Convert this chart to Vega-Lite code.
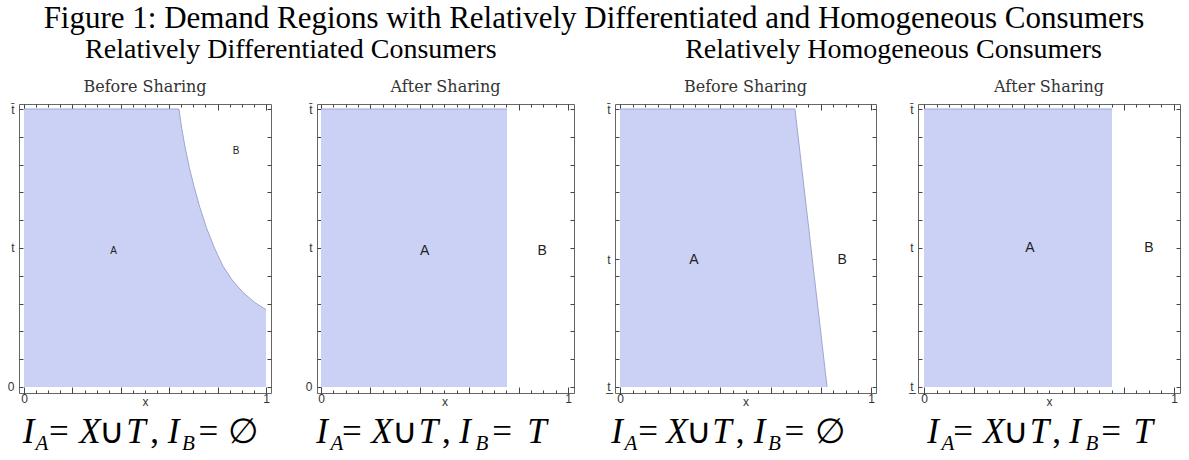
{
  "$schema": "https://vega.github.io/schema/vega-lite/v6.json",
  "padding": {"left": 6, "top": 2, "right": 0, "bottom": 0},
  "background": "white",
  "title": {"text": "Figure 1: Demand Regions with Relatively Differentiated and Homogeneous Consumers", "font": "Liberation Serif", "fontSize": 31, "fontWeight": "normal", "color": "#000", "anchor": "middle", "offset": 1},
  "config": {
    "view": {"stroke": "#666", "strokeWidth": 1, "fill": "white"},
    "axis": {"grid": false, "domain": false, "tickColor": "#444", "labelFont": "Liberation Sans", "labelFontSize": 12, "labelColor": "#333", "labelFlush": false, "title": null},
    "text": {"font": "Liberation Sans"}
  },
  "datasets": {
    "p1_region": [{"x": 0, "t": 1}, {"x": 0.64, "t": 1}, {"x": 0.652, "t": 0.93}, {"x": 0.666, "t": 0.86}, {"x": 0.683, "t": 0.79}, {"x": 0.703, "t": 0.72}, {"x": 0.727, "t": 0.645}, {"x": 0.755, "t": 0.57}, {"x": 0.787, "t": 0.5}, {"x": 0.822, "t": 0.435}, {"x": 0.86, "t": 0.385}, {"x": 0.905, "t": 0.34}, {"x": 0.952, "t": 0.305}, {"x": 1, "t": 0.278}],
    "p2_region": [{"x": 0, "t": 1}, {"x": 0.753, "t": 1}],
    "p3_region": [{"x": 0, "t": 1}, {"x": 0.697, "t": 1}, {"x": 0.825, "t": 0}],
    "p4_region": [{"x": 0, "t": 1}, {"x": 0.752, "t": 1}],
    "p1_labels": [{"label": "A", "x": 0.37, "t": 0.49}, {"label": "B", "x": 0.876, "t": 0.85}],
    "p2_labels": [{"label": "A", "x": 0.42, "t": 0.49}, {"label": "B", "x": 0.895, "t": 0.49}],
    "p3_labels": [{"label": "A", "x": 0.295, "t": 0.457}, {"label": "B", "x": 0.885, "t": 0.457}],
    "p4_labels": [{"label": "A", "x": 0.424, "t": 0.5}, {"label": "B", "x": 0.9, "t": 0.5}],
    "p1_sym": [{"token": "I", "x": 0.0186, "t": -0.2}, {"token": "X", "x": 0.2727, "t": -0.2}, {"token": "T", "x": 0.4628, "t": -0.2}, {"token": "I", "x": 0.6178, "t": -0.2}],
    "p1_op": [{"token": "=", "x": 0.1446, "t": -0.2}, {"token": "∪", "x": 0.3633, "t": -0.2}, {"token": ",", "x": 0.5393, "t": -0.2}, {"token": "=", "x": 0.7624, "t": -0.2}, {"token": "∅", "x": 0.907, "t": -0.2}],
    "p1_sub": [{"token": "A", "x": 0.0744, "t": -0.226}, {"token": "B", "x": 0.6798, "t": -0.226}],
    "p2_sym": [{"token": "I", "x": 0.004, "t": -0.2}, {"token": "X", "x": 0.247, "t": -0.2}, {"token": "T", "x": 0.4352, "t": -0.2}, {"token": "I", "x": 0.583, "t": -0.2}, {"token": "T", "x": 0.874, "t": -0.2}],
    "p2_op": [{"token": "=", "x": 0.1255, "t": -0.2}, {"token": "∪", "x": 0.34, "t": -0.2}, {"token": ",", "x": 0.508, "t": -0.2}, {"token": "=", "x": 0.7328, "t": -0.2}],
    "p2_sub": [{"token": "A", "x": 0.0648, "t": -0.226}, {"token": "B", "x": 0.6518, "t": -0.226}],
    "p3_sym": [{"token": "I", "x": -0.012, "t": -0.2}, {"token": "X", "x": 0.2271, "t": -0.2}, {"token": "T", "x": 0.4064, "t": -0.2}, {"token": "I", "x": 0.5558, "t": -0.2}],
    "p3_op": [{"token": "=", "x": 0.1116, "t": -0.2}, {"token": "∪", "x": 0.3148, "t": -0.2}, {"token": ",", "x": 0.4781, "t": -0.2}, {"token": "=", "x": 0.6952, "t": -0.2}, {"token": "∅", "x": 0.8347, "t": -0.2}],
    "p3_sub": [{"token": "A", "x": 0.0438, "t": -0.226}, {"token": "B", "x": 0.6155, "t": -0.226}],
    "p4_sym": [{"token": "I", "x": 0.036, "t": -0.2}, {"token": "X", "x": 0.28, "t": -0.2}, {"token": "T", "x": 0.462, "t": -0.2}, {"token": "I", "x": 0.604, "t": -0.2}, {"token": "T", "x": 0.877, "t": -0.2}],
    "p4_op": [{"token": "=", "x": 0.156, "t": -0.2}, {"token": "∪", "x": 0.368, "t": -0.2}, {"token": ",", "x": 0.53, "t": -0.2}, {"token": "=", "x": 0.748, "t": -0.2}],
    "p4_sub": [{"token": "A", "x": 0.096, "t": -0.226}, {"token": "B", "x": 0.672, "t": -0.226}]
  },
  "spacing": 31,
  "hconcat": [
    {
      "title": {"text": "Relatively Differentiated Consumers", "font": "Liberation Serif", "fontSize": 28, "fontWeight": "normal", "color": "#000", "anchor": "middle", "offset": 15},
      "spacing": 32,
      "hconcat": [
        {
          "width": 252, "height": 289,
          "title": {"text": "Before Sharing", "font": "DejaVu Serif", "fontSize": 16, "fontWeight": "normal", "color": "#333", "offset": 8},
          "resolve": {"axis": {"x": "independent", "y": "independent"}},
          "layer": [
            {"data": {"name": "p1_region"}, "mark": {"type": "area", "color": "#cbd1f4", "opacity": 1, "line": {"color": "#a0a6cf", "strokeWidth": 1}},
             "encoding": {
               "x": {"field": "x", "type": "quantitative", "scale": {"domain": [-0.0207, 1.0207], "nice": false, "zero": false},
                     "axis": {"orient": "bottom", "values": [0,0.05,0.1,0.15,0.2,0.25,0.3,0.35,0.4,0.45,0.5,0.55,0.6,0.65,0.7,0.75,0.8,0.85,0.9,0.95,1], "labelExpr": "datum.value==0?'0':datum.value==0.5?'x':datum.value==1?'1':''", "tickSize": {"condition": {"test": "abs(datum.value*5-round(datum.value*5))<0.001", "value": -6}, "value": -3}, "labelPadding": 6}},
               "y": {"field": "t", "type": "quantitative", "scale": {"domain": [-0.0216, 1.018], "nice": false, "zero": false},
                     "axis": {"orient": "left", "values": [0,0.1,0.2,0.3,0.4,0.5,0.6,0.7,0.8,0.9,1], "labelExpr": "datum.value==1?'t\u0304':datum.value==0?'0':datum.value==0.5?'t':''", "tickSize": -4, "labelPadding": 9}},
               "y2": {"datum": 0}}},
            {"data": {"name": "p1_labels"}, "mark": {"type": "text", "fontSize": 10, "color": "#222"},
             "encoding": {
               "x": {"field": "x", "type": "quantitative", "scale": {"domain": [-0.0207, 1.0207], "nice": false, "zero": false},
                     "axis": {"orient": "top", "values": [0,0.05,0.1,0.15,0.2,0.25,0.3,0.35,0.4,0.45,0.5,0.55,0.6,0.65,0.7,0.75,0.8,0.85,0.9,0.95,1], "labels": false, "tickSize": {"condition": {"test": "abs(datum.value*5-round(datum.value*5))<0.001", "value": -6}, "value": -3}}},
               "y": {"field": "t", "type": "quantitative", "scale": {"domain": [-0.0216, 1.018], "nice": false, "zero": false},
                     "axis": {"orient": "right", "values": [0,0.1,0.2,0.3,0.4,0.5,0.6,0.7,0.8,0.9,1], "labels": false, "tickSize": -4}},
               "text": {"field": "label"}}},
            {"data": {"name": "p1_sym"}, "mark": {"type": "text", "font": "Liberation Serif", "fontStyle": "italic", "fontSize": 35, "align": "center", "baseline": "alphabetic", "color": "#000"},
             "encoding": {"x": {"field": "x", "type": "quantitative", "scale": {"domain": [-0.0207, 1.0207], "nice": false, "zero": false}, "axis": null}, "y": {"field": "t", "type": "quantitative", "scale": {"domain": [-0.0216, 1.018], "nice": false, "zero": false}, "axis": null}, "text": {"field": "token"}}},
            {"data": {"name": "p1_op"}, "mark": {"type": "text", "font": "Liberation Serif", "fontSize": 35, "align": "center", "baseline": "alphabetic", "color": "#000"},
             "encoding": {"x": {"field": "x", "type": "quantitative", "scale": {"domain": [-0.0207, 1.0207], "nice": false, "zero": false}, "axis": null}, "y": {"field": "t", "type": "quantitative", "scale": {"domain": [-0.0216, 1.018], "nice": false, "zero": false}, "axis": null}, "text": {"field": "token"}}},
            {"data": {"name": "p1_sub"}, "mark": {"type": "text", "font": "Liberation Serif", "fontStyle": "italic", "fontSize": 21, "align": "center", "baseline": "alphabetic", "color": "#000"},
             "encoding": {"x": {"field": "x", "type": "quantitative", "scale": {"domain": [-0.0207, 1.0207], "nice": false, "zero": false}, "axis": null}, "y": {"field": "t", "type": "quantitative", "scale": {"domain": [-0.0216, 1.018], "nice": false, "zero": false}, "axis": null}, "text": {"field": "token"}}}
          ]
        },
        {
          "width": 257, "height": 289,
          "title": {"text": "After Sharing", "font": "DejaVu Serif", "fontSize": 16, "fontWeight": "normal", "color": "#333", "offset": 8},
          "resolve": {"axis": {"x": "independent", "y": "independent"}},
          "layer": [
            {"data": {"name": "p2_region"}, "mark": {"type": "area", "color": "#cbd1f4", "opacity": 1, "line": {"color": "#a0a6cf", "strokeWidth": 1}},
             "encoding": {
               "x": {"field": "x", "type": "quantitative", "scale": {"domain": [-0.0162, 1.0243], "nice": false, "zero": false},
                     "axis": {"orient": "bottom", "values": [0,0.05,0.1,0.15,0.2,0.25,0.3,0.35,0.4,0.45,0.5,0.55,0.6,0.65,0.7,0.75,0.8,0.85,0.9,0.95,1], "labelExpr": "datum.value==0?'0':datum.value==0.5?'x':datum.value==1?'1':''", "tickSize": {"condition": {"test": "abs(datum.value*5-round(datum.value*5))<0.001", "value": -6}, "value": -3}, "labelPadding": 6}},
               "y": {"field": "t", "type": "quantitative", "scale": {"domain": [-0.0216, 1.018], "nice": false, "zero": false},
                     "axis": {"orient": "left", "values": [0,0.1,0.2,0.3,0.4,0.5,0.6,0.7,0.8,0.9,1], "labelExpr": "datum.value==1?'t\u0304':datum.value==0?'0':datum.value==0.5?'t':''", "tickSize": -4, "labelPadding": 9}},
               "y2": {"datum": 0}}},
            {"data": {"name": "p2_labels"}, "mark": {"type": "text", "fontSize": 14, "color": "#222"},
             "encoding": {
               "x": {"field": "x", "type": "quantitative", "scale": {"domain": [-0.0162, 1.0243], "nice": false, "zero": false},
                     "axis": {"orient": "top", "values": [0,0.05,0.1,0.15,0.2,0.25,0.3,0.35,0.4,0.45,0.5,0.55,0.6,0.65,0.7,0.75,0.8,0.85,0.9,0.95,1], "labels": false, "tickSize": {"condition": {"test": "abs(datum.value*5-round(datum.value*5))<0.001", "value": -6}, "value": -3}}},
               "y": {"field": "t", "type": "quantitative", "scale": {"domain": [-0.0216, 1.018], "nice": false, "zero": false},
                     "axis": {"orient": "right", "values": [0,0.1,0.2,0.3,0.4,0.5,0.6,0.7,0.8,0.9,1], "labels": false, "tickSize": -4}},
               "text": {"field": "label"}}},
            {"data": {"name": "p2_sym"}, "mark": {"type": "text", "font": "Liberation Serif", "fontStyle": "italic", "fontSize": 35, "align": "center", "baseline": "alphabetic", "color": "#000"},
             "encoding": {"x": {"field": "x", "type": "quantitative", "scale": {"domain": [-0.0162, 1.0243], "nice": false, "zero": false}, "axis": null}, "y": {"field": "t", "type": "quantitative", "scale": {"domain": [-0.0216, 1.018], "nice": false, "zero": false}, "axis": null}, "text": {"field": "token"}}},
            {"data": {"name": "p2_op"}, "mark": {"type": "text", "font": "Liberation Serif", "fontSize": 35, "align": "center", "baseline": "alphabetic", "color": "#000"},
             "encoding": {"x": {"field": "x", "type": "quantitative", "scale": {"domain": [-0.0162, 1.0243], "nice": false, "zero": false}, "axis": null}, "y": {"field": "t", "type": "quantitative", "scale": {"domain": [-0.0216, 1.018], "nice": false, "zero": false}, "axis": null}, "text": {"field": "token"}}},
            {"data": {"name": "p2_sub"}, "mark": {"type": "text", "font": "Liberation Serif", "fontStyle": "italic", "fontSize": 21, "align": "center", "baseline": "alphabetic", "color": "#000"},
             "encoding": {"x": {"field": "x", "type": "quantitative", "scale": {"domain": [-0.0162, 1.0243], "nice": false, "zero": false}, "axis": null}, "y": {"field": "t", "type": "quantitative", "scale": {"domain": [-0.0216, 1.018], "nice": false, "zero": false}, "axis": null}, "text": {"field": "token"}}}
          ]
        }
      ]
    },
    {
      "title": {"text": "Relatively Homogeneous Consumers", "font": "Liberation Serif", "fontSize": 28, "fontWeight": "normal", "color": "#000", "anchor": "middle", "offset": 15},
      "spacing": 32,
      "hconcat": [
        {
          "width": 261, "height": 289,
          "title": {"text": "Before Sharing", "font": "DejaVu Serif", "fontSize": 16, "fontWeight": "normal", "color": "#333", "offset": 8},
          "resolve": {"axis": {"x": "independent", "y": "independent"}},
          "layer": [
            {"data": {"name": "p3_region"}, "mark": {"type": "area", "color": "#cbd1f4", "opacity": 1, "line": {"color": "#a0a6cf", "strokeWidth": 1}},
             "encoding": {
               "x": {"field": "x", "type": "quantitative", "scale": {"domain": [-0.0199, 1.0199], "nice": false, "zero": false},
                     "axis": {"orient": "bottom", "values": [0,0.05,0.1,0.15,0.2,0.25,0.3,0.35,0.4,0.45,0.5,0.55,0.6,0.65,0.7,0.75,0.8,0.85,0.9,0.95,1], "labelExpr": "datum.value==0?'0':datum.value==0.5?'x':datum.value==1?'1':''", "tickSize": {"condition": {"test": "abs(datum.value*5-round(datum.value*5))<0.001", "value": -6}, "value": -3}, "labelPadding": 6}},
               "y": {"field": "t", "type": "quantitative", "scale": {"domain": [-0.0216, 1.018], "nice": false, "zero": false},
                     "axis": {"orient": "left", "values": [0,0.1,0.2,0.3,0.4,0.46,0.6,0.7,0.8,0.9,1], "labelExpr": "datum.value==1?'t\u0304':datum.value==0?'t\u0332':datum.value==0.46?'t':''", "tickSize": -4, "labelPadding": 9}},
               "y2": {"datum": 0}}},
            {"data": {"name": "p3_labels"}, "mark": {"type": "text", "fontSize": 14, "color": "#222"},
             "encoding": {
               "x": {"field": "x", "type": "quantitative", "scale": {"domain": [-0.0199, 1.0199], "nice": false, "zero": false},
                     "axis": {"orient": "top", "values": [0,0.05,0.1,0.15,0.2,0.25,0.3,0.35,0.4,0.45,0.5,0.55,0.6,0.65,0.7,0.75,0.8,0.85,0.9,0.95,1], "labels": false, "tickSize": {"condition": {"test": "abs(datum.value*5-round(datum.value*5))<0.001", "value": -6}, "value": -3}}},
               "y": {"field": "t", "type": "quantitative", "scale": {"domain": [-0.0216, 1.018], "nice": false, "zero": false},
                     "axis": {"orient": "right", "values": [0,0.1,0.2,0.3,0.4,0.46,0.6,0.7,0.8,0.9,1], "labels": false, "tickSize": -4}},
               "text": {"field": "label"}}},
            {"data": {"name": "p3_sym"}, "mark": {"type": "text", "font": "Liberation Serif", "fontStyle": "italic", "fontSize": 35, "align": "center", "baseline": "alphabetic", "color": "#000"},
             "encoding": {"x": {"field": "x", "type": "quantitative", "scale": {"domain": [-0.0199, 1.0199], "nice": false, "zero": false}, "axis": null}, "y": {"field": "t", "type": "quantitative", "scale": {"domain": [-0.0216, 1.018], "nice": false, "zero": false}, "axis": null}, "text": {"field": "token"}}},
            {"data": {"name": "p3_op"}, "mark": {"type": "text", "font": "Liberation Serif", "fontSize": 35, "align": "center", "baseline": "alphabetic", "color": "#000"},
             "encoding": {"x": {"field": "x", "type": "quantitative", "scale": {"domain": [-0.0199, 1.0199], "nice": false, "zero": false}, "axis": null}, "y": {"field": "t", "type": "quantitative", "scale": {"domain": [-0.0216, 1.018], "nice": false, "zero": false}, "axis": null}, "text": {"field": "token"}}},
            {"data": {"name": "p3_sub"}, "mark": {"type": "text", "font": "Liberation Serif", "fontStyle": "italic", "fontSize": 21, "align": "center", "baseline": "alphabetic", "color": "#000"},
             "encoding": {"x": {"field": "x", "type": "quantitative", "scale": {"domain": [-0.0199, 1.0199], "nice": false, "zero": false}, "axis": null}, "y": {"field": "t", "type": "quantitative", "scale": {"domain": [-0.0216, 1.018], "nice": false, "zero": false}, "axis": null}, "text": {"field": "token"}}}
          ]
        },
        {
          "width": 262, "height": 289,
          "title": {"text": "After Sharing", "font": "DejaVu Serif", "fontSize": 16, "fontWeight": "normal", "color": "#333", "offset": 8},
          "resolve": {"axis": {"x": "independent", "y": "independent"}},
          "layer": [
            {"data": {"name": "p4_region"}, "mark": {"type": "area", "color": "#cbd1f4", "opacity": 1, "line": {"color": "#a0a6cf", "strokeWidth": 1}},
             "encoding": {
               "x": {"field": "x", "type": "quantitative", "scale": {"domain": [-0.024, 1.024], "nice": false, "zero": false},
                     "axis": {"orient": "bottom", "values": [0,0.05,0.1,0.15,0.2,0.25,0.3,0.35,0.4,0.45,0.5,0.55,0.6,0.65,0.7,0.75,0.8,0.85,0.9,0.95,1], "labelExpr": "datum.value==0?'0':datum.value==0.5?'x':datum.value==1?'1':''", "tickSize": {"condition": {"test": "abs(datum.value*5-round(datum.value*5))<0.001", "value": -6}, "value": -3}, "labelPadding": 6}},
               "y": {"field": "t", "type": "quantitative", "scale": {"domain": [-0.0216, 1.018], "nice": false, "zero": false},
                     "axis": {"orient": "left", "values": [0,0.1,0.2,0.3,0.4,0.5,0.6,0.7,0.8,0.9,1], "labelExpr": "datum.value==1?'t\u0304':datum.value==0?'t\u0332':datum.value==0.5?'t':''", "tickSize": -4, "labelPadding": 9}},
               "y2": {"datum": 0}}},
            {"data": {"name": "p4_labels"}, "mark": {"type": "text", "fontSize": 14, "color": "#222"},
             "encoding": {
               "x": {"field": "x", "type": "quantitative", "scale": {"domain": [-0.024, 1.024], "nice": false, "zero": false},
                     "axis": {"orient": "top", "values": [0,0.05,0.1,0.15,0.2,0.25,0.3,0.35,0.4,0.45,0.5,0.55,0.6,0.65,0.7,0.75,0.8,0.85,0.9,0.95,1], "labels": false, "tickSize": {"condition": {"test": "abs(datum.value*5-round(datum.value*5))<0.001", "value": -6}, "value": -3}}},
               "y": {"field": "t", "type": "quantitative", "scale": {"domain": [-0.0216, 1.018], "nice": false, "zero": false},
                     "axis": {"orient": "right", "values": [0,0.1,0.2,0.3,0.4,0.5,0.6,0.7,0.8,0.9,1], "labels": false, "tickSize": -4}},
               "text": {"field": "label"}}},
            {"data": {"name": "p4_sym"}, "mark": {"type": "text", "font": "Liberation Serif", "fontStyle": "italic", "fontSize": 35, "align": "center", "baseline": "alphabetic", "color": "#000"},
             "encoding": {"x": {"field": "x", "type": "quantitative", "scale": {"domain": [-0.024, 1.024], "nice": false, "zero": false}, "axis": null}, "y": {"field": "t", "type": "quantitative", "scale": {"domain": [-0.0216, 1.018], "nice": false, "zero": false}, "axis": null}, "text": {"field": "token"}}},
            {"data": {"name": "p4_op"}, "mark": {"type": "text", "font": "Liberation Serif", "fontSize": 35, "align": "center", "baseline": "alphabetic", "color": "#000"},
             "encoding": {"x": {"field": "x", "type": "quantitative", "scale": {"domain": [-0.024, 1.024], "nice": false, "zero": false}, "axis": null}, "y": {"field": "t", "type": "quantitative", "scale": {"domain": [-0.0216, 1.018], "nice": false, "zero": false}, "axis": null}, "text": {"field": "token"}}},
            {"data": {"name": "p4_sub"}, "mark": {"type": "text", "font": "Liberation Serif", "fontStyle": "italic", "fontSize": 21, "align": "center", "baseline": "alphabetic", "color": "#000"},
             "encoding": {"x": {"field": "x", "type": "quantitative", "scale": {"domain": [-0.024, 1.024], "nice": false, "zero": false}, "axis": null}, "y": {"field": "t", "type": "quantitative", "scale": {"domain": [-0.0216, 1.018], "nice": false, "zero": false}, "axis": null}, "text": {"field": "token"}}}
          ]
        }
      ]
    }
  ]
}
